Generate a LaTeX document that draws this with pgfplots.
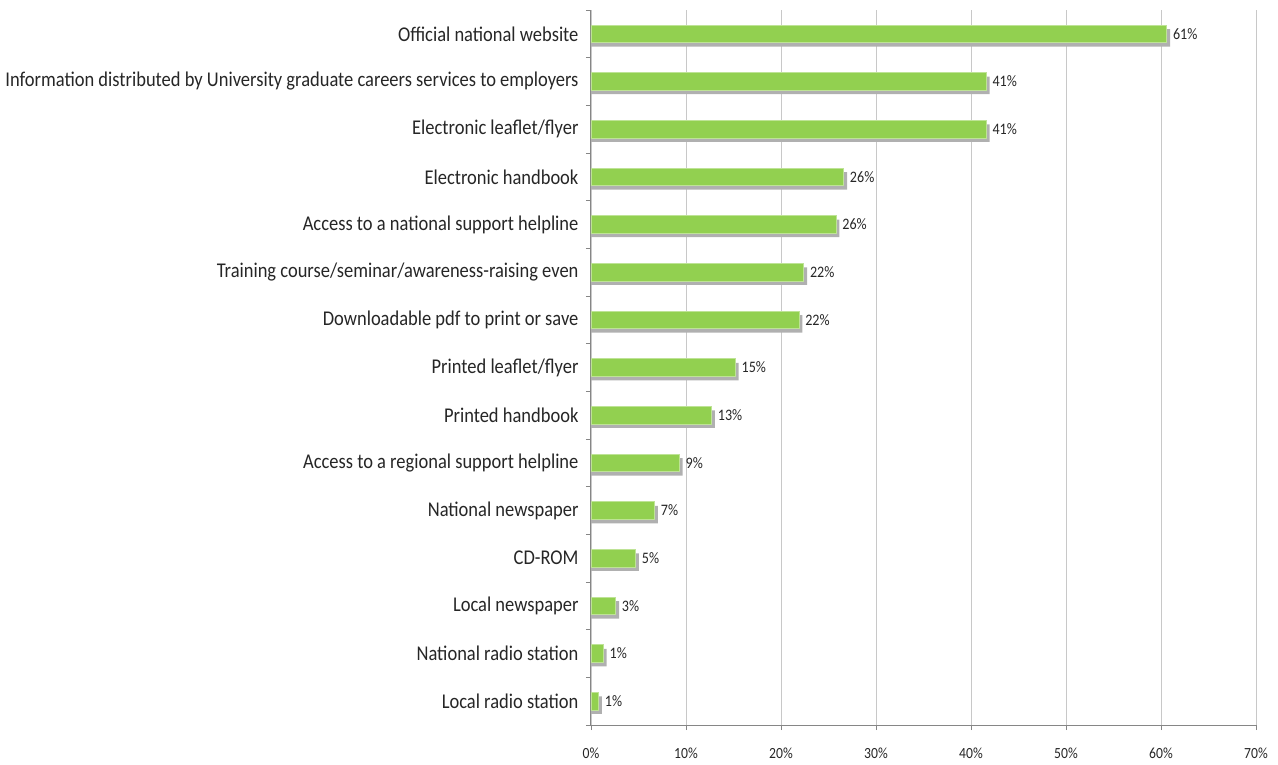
\documentclass[border=0pt]{standalone}
\usepackage{pgfplots}
\pgfplotsset{compat=1.18}
\usepackage{pgfplotstable}
\usepackage{fontspec}
\setmainfont{Carlito}[FakeStretch=0.88]
\definecolor{barg}{HTML}{92D050}
\definecolor{shad}{HTML}{B0B0B0}
\definecolor{gridc}{HTML}{C8C8C8}
\definecolor{axc}{HTML}{868686}
\definecolor{txt}{HTML}{262626}

\pgfplotstableread{
y val lab
14 60.6 61
13 41.6 41
12 41.6 41
11 26.6 26
10 25.8 26
9 22.4 22
8 21.9 22
7 15.2 15
6 12.7 13
5 9.3 9
4 6.7 7
3 4.7 5
2 2.6 3
1 1.3 1
0 0.8 1
}\datatable

\pgfplotstableread{
y val
14 60.95
13 41.95
12 41.95
11 26.95
10 26.15
9 22.75
8 22.25
7 15.55
6 13.05
5 9.65
4 7.05
3 5.05
2 2.95
1 1.65
0 1.15
}\shadtable

\begin{document}
\begin{tikzpicture}
\begin{axis}[name=ax, scale only axis, width=665pt, height=715pt,
  xmin=0, xmax=70, ymin=-0.5, ymax=14.5,
  /pgf/number format/assume math mode=true,
  xbar, bar width=17.5pt,
  axis x line=bottom, axis y line=left,
  axis line style={-, draw=axc, line width=1pt},
  xtick={0,10,...,70},
  xticklabels={0\%,10\%,20\%,30\%,40\%,50\%,60\%,70\%},
  xmajorgrids, grid style={gridc, line width=0.8pt},
  ytick={0,...,14},
  yticklabels={Local radio station, National radio station, Local newspaper, CD-ROM, National newspaper, Access to a regional support helpline, Printed handbook, Printed leaflet/flyer, Downloadable pdf to print or save, Training course/seminar/awareness-raising even, Access to a national support helpline, Electronic handbook, Electronic leaflet/flyer, Information distributed by University graduate careers services to employers, Official national website},
  minor ytick={-0.5,0.5,...,14.5},
  tick align=outside,
  major tick length=5pt, minor tick length=5pt,
  major y tick style={draw=none},
  minor y tick style={draw=axc, line width=0.8pt},
  major x tick style={draw=axc, line width=0.8pt},
  xticklabel style={font=\fontsize{15.5}{16}\selectfont, text=txt, yshift=-14pt},
  yticklabel style={font=\fontsize{21}{22}\selectfont, text=txt, xshift=-4pt},
  clip=false,
]
\addplot[draw=none, fill=shad, bar shift=-4pt] table[x=val, y=y] {\shadtable};
\addplot[draw=barg!60!white, line width=0.6pt, fill=barg, bar shift=0pt,
  nodes near coords={\pgfmathprintnumber{\pgfplotspointmeta}\%},
  point meta=explicit,
  nodes near coords style={font=\fontsize{16}{17}\selectfont, text=txt, anchor=west, xshift=5pt, inner sep=1pt}]
  table[x=val, y=y, meta=lab] {\datatable};
\end{axis}
\pgfresetboundingbox
\path[use as bounding box] ([xshift=-591pt,yshift=-39pt]ax.south west) rectangle ([xshift=22pt,yshift=10pt]ax.north east);
\end{tikzpicture}
\end{document}
